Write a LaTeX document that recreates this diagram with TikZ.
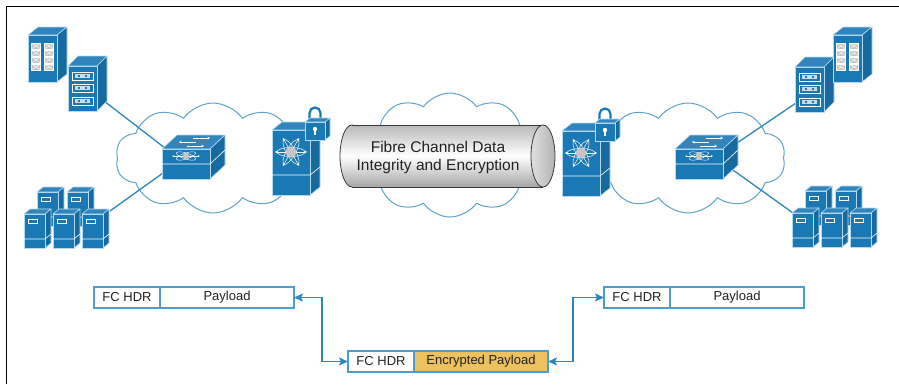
\documentclass[tikz,border=0pt]{standalone}
\usepackage{fontspec}
\setmainfont{Liberation Sans}
\usepackage{xcolor}
\usepackage{tikz}
\usetikzlibrary{arrows.meta, positioning, shapes.symbols, backgrounds}
\definecolor{ciscoBlue}{HTML}{1A78B5}
\definecolor{ciscoEdge}{HTML}{B5DAF0}
\definecolor{cloudBlue}{HTML}{5FA3CB}
\definecolor{linkBlue}{HTML}{2F86BC}
\definecolor{frameBlue}{HTML}{4D9ED0}
\definecolor{payloadGold}{HTML}{EDC15E}
\definecolor{textDark}{HTML}{222222}
\definecolor{tubeEdge}{HTML}{3A3A3A}

\tikzset{
  face/.style={fill=ciscoBlue, draw=ciscoEdge, line width=0.6pt, line join=round},
  iconline/.style={draw=white, line width=0.6pt},
  toparrow/.style={iconline, line width=0.5pt, -{Stealth[length=2.5pt,width=2.5pt]}},
  % 3D block: width, height, depth x, depth y
  pics/cube/.style n args={4}{code={
    \path[face, fill=ciscoBlue!90!white] (0,#4) -- ++(#3,-#4) -- ++(#1,0) -- ++(-#3,#4) -- cycle;
    \path[face, fill=ciscoBlue!88!black] (#1,#4) -- ++(#3,-#4) -- ++(0,#2) -- ++(-#3,#4) -- cycle;
    \path[face] (0,#4) rectangle ++(#1,#2);
  }},
  pics/gridserver/.style={code={
    \pic {cube={29}{47}{10}{8}};
    \foreach \gx in {8,21}
      \foreach \gy in {19,26,33,40} {
        \filldraw[fill=gray!45, draw=white, line width=0.4pt] (\gx-4.5,\gy-2.8) rectangle (\gx+4.5,\gy+2.8);
        \draw[white, line width=0.4pt] (\gx-4.5,\gy-2.8) -- (\gx+4.5,\gy+2.8) (\gx-4.5,\gy+2.8) -- (\gx+4.5,\gy-2.8);
      }
  }},
  pics/fileserver/.style={code={
    \pic {cube={29}{45}{10}{10}};
    \foreach \row in {20,32,45} {
      \draw[iconline] (4,\row-4) rectangle (25,\row+4);
      \fill[white!75!ciscoBlue] (7,\row-2) rectangle (22,\row+2);
      \fill[ciscoBlue!60!black] (11,\row) circle (1.1) (18,\row) circle (1.1);
    }
    \coordinate (-e) at (36,45);
    \coordinate (-w) at (1,46);
  }},
  pics/fabricswitch/.style={code={
    \pic {cube={48}{30}{15}{14}};
    \draw[iconline] (0,29) -- (48,29) -- (63,15);
    \draw[toparrow] (31,3) -- (48,3);
    \draw[toparrow] (34,7) -- (17,7);
    \draw[toparrow] (25,11) -- (42,11);
    \begin{scope}[iconline, line width=0.45pt]
      \draw[rotate around={18:(24,21)}] (24,21) ellipse [x radius=10, y radius=3];
      \draw[rotate around={-18:(24,21)}] (24,21) ellipse [x radius=10, y radius=3];
      \draw[-{Stealth[length=2pt]}] (24,21) -- (10,21);
      \draw[-{Stealth[length=2pt]}] (24,21) -- (38,21);
    \end{scope}
    \fill[gray!45] (24,21) circle (3.2);
    \coordinate (-wn) at (3,13);
    \coordinate (-ws) at (1,38);
    \coordinate (-en) at (62,8);
    \coordinate (-es) at (58,35);
  }},
  pics/director/.style={code={
    \pic {cube={38}{65}{10}{8}};
    \draw[iconline] (0,53) -- (38,53) -- (48,45);
    \begin{scope}[iconline, line width=0.5pt]
      \foreach \a in {0,60,120}
        \draw[rotate around={\a:(19,30)}] (19,30) ellipse [x radius=14, y radius=4.5];
      \foreach \a in {0,60,...,300}
        \draw[-{Stealth[length=2.5pt,width=3pt]}] (19,30) -- ++(\a:16);
    \end{scope}
    \fill[gray!45] (19,30) circle (5.5);
    % padlock
    \draw[white, line width=3.6pt] (37.5,0) -- (37.5,-9) arc (180:360:5.5) -- (48.5,0);
    \draw[ciscoBlue, line width=2.2pt] (37.5,0) -- (37.5,-9) arc (180:360:5.5) -- (48.5,0);
    \pic at (33,-4) {cube={20}{18}{5}{4}};
    \fill[white] (43,7) circle (2.2);
    \fill[white] (42.1,7) rectangle (43.9,12.5);
  }},
  pics/tower/.style={code={
    \pic {cube={21}{34}{6}{5}};
    \draw[iconline, line width=0.5pt] (4,10) rectangle (13,14);
    \draw[iconline] (0,30) -- (21,30) -- (27,25);
  }},
  pics/cluster/.style={code={
    \pic at (13,-22) {tower};
    \pic at (43,-22) {tower};
    \foreach \tx in {0,29,58}
      \pic at (\tx,0) {tower};
    \coordinate (-e) at (86,2);
    \coordinate (-w) at (1,5);
  }}
}

\begin{document}
\begin{tikzpicture}[
    x=1pt, y=-1pt,
    fcbox/.style={draw=frameBlue, line width=1.4pt, outer sep=0pt, inner sep=0pt, minimum height=21pt, font=\fontsize{13}{15}\selectfont, text=textDark},
    hdr/.style={fcbox, minimum width=66pt, anchor=north west},
    payload/.style={fcbox, minimum width=134pt, fill=#1},
    payload/.default=white,
    san/.style={cloud, cloud puffs=10, cloud puff arc=110, aspect=1.8, draw=cloudBlue, line width=1pt, fill=white},
    link/.style={draw=linkBlue, line width=1.3pt},
    xfer/.style={{Stealth[length=9pt,width=8pt,inset=2pt]}-{Stealth[length=9pt,width=8pt,inset=2pt]}, draw=linkBlue, line width=1.3pt},
    tube/.style={top color=gray!55, bottom color=gray!70, middle color=white}
]
\useasboundingbox (0,0) rectangle (899,384);

% Frame
\draw[black, line width=1.6pt] (6.5,384) -- (6.5,6.5) -- (899,6.5);

% SAN clouds
\begin{scope}[on background layer]
\node[san, minimum width=195pt, minimum height=110pt] (lsan) at (213,158) {};
\node[san, minimum width=180pt, minimum height=124pt] (csan) at (450,155) {};
\node[san, minimum width=195pt, minimum height=110pt] (rsan) at (688,158) {};
\end{scope}

% Left site
\pic (lgrid) at (28,27) {gridserver};
\pic (lfile) at (68,56) {fileserver};
\pic (lcluster) at (24,209) {cluster};
\pic (lswitch) at (162,135) {fabricswitch};
\pic (ldir) at (272,122) {director};

% Right site
\pic (rdir) at (562,123) {director};
\pic (rswitch) at (675,135) {fabricswitch};
\pic (rfile) at (795,57) {fileserver};
\pic (rgrid) at (833,27) {gridserver};
\pic (rcluster) at (792,208) {cluster};

% Links
\begin{scope}[on background layer]
\draw[link] (lfile-e) -- (lswitch-wn);
\draw[link] (lcluster-e) -- (lswitch-ws);
\draw[link] (rswitch-en) -- (rfile-w);
\draw[link] (rswitch-es) -- (rcluster-w);
\end{scope}

% Encrypted tunnel
\shadedraw[tube, draw=tubeEdge, line width=0.8pt] (352,156) ellipse [x radius=12, y radius=31];
\shade[tube] (352,125) rectangle (543,187);
\draw[tubeEdge, line width=0.8pt] (352,125) -- (543,125) (352,187) -- (543,187);
\shadedraw[left color=gray!25, right color=gray!60, draw=tubeEdge, line width=0.8pt] (543,156) ellipse [x radius=12, y radius=31];
\node[font=\fontsize{15.5}{18}\selectfont, align=center, text=textDark] (tunnel) at (438,157) {Fibre Channel Data\\Integrity and Encryption};

% Frames
\node[hdr] (lhdr) at (94,287) {FC HDR};
\node[payload, right=0pt of lhdr] (lpay) {Payload};
\node[hdr] (mhdr) at (348,351) {FC HDR};
\node[payload=payloadGold, right=0pt of mhdr] (mpay) {Encrypted Payload};
\node[hdr] (rhdr) at (604,287) {FC HDR};
\node[payload, right=0pt of rhdr] (rpay) {Payload};

\draw[xfer] (lpay.east) -- ++(28,0) |- (mhdr.west);
\draw[xfer] (mpay.east) -- ++(25,0) |- (rhdr.west);

\end{tikzpicture}
\end{document}
